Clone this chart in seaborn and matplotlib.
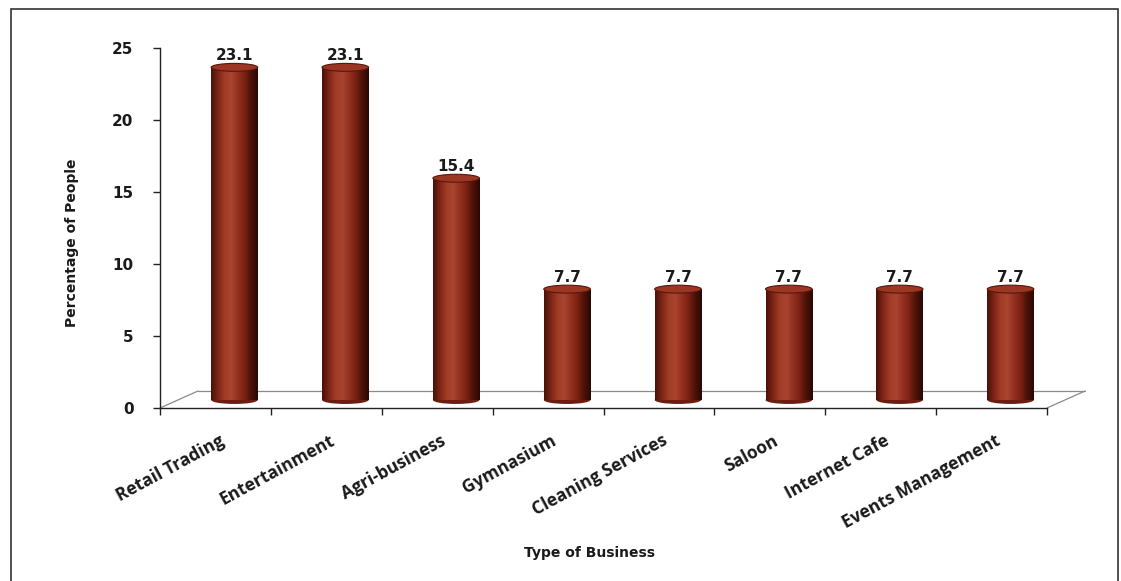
import numpy as np
import matplotlib
matplotlib.use('Agg')
import matplotlib.pyplot as plt
import matplotlib.transforms as mtransforms
from matplotlib.colors import LinearSegmentedColormap
from matplotlib.patches import Ellipse, Rectangle
from matplotlib.lines import Line2D
import seaborn as sns
import pandas as pd

categories = ["Retail Trading", "Entertainment", "Agri-business", "Gymnasium",
              "Cleaning Services", "Saloon", "Internet Cafe", "Events Management"]
percentages = [23.1, 23.1, 15.4, 7.7, 7.7, 7.7, 7.7, 7.7]
yticks = [0, 5, 10, 15, 20, 25]
x_title = "Type of Business"
y_title = "Percentage of People"

sns.set_theme(style='white')
plt.rcParams['font.family'] = ['DejaVu Sans']

W, H = 1121, 581
fig = plt.figure(figsize=(W / 100, H / 100), dpi=100)
ax = fig.add_axes([160 / W, 173 / H, (1047 - 160) / W, (408 - 48) / H])
ax.set_facecolor('white')

df = pd.DataFrame({'cat': categories, 'pct': percentages})
sns.barplot(data=df, x='cat', y='pct', color='#8e2c1b', width=0.42,
            saturation=1, errorbar=None, ax=ax, zorder=3)

ax.set_xlim(-0.5, 7.5)
ax.set_ylim(0, 25)

# 3-D depth offset
depth = mtransforms.ScaledTranslation(19 / 100, 8 / 100, fig.dpi_scale_trans)
trans = ax.transData + depth
back = mtransforms.ScaledTranslation(38 / 100, 17 / 100, fig.dpi_scale_trans)

cmap = LinearSegmentedColormap.from_list(
    'cyl', ['#4a1209', '#7e2516', '#a03b26', '#a94430', '#953120', '#7a2213', '#4d1208', '#2a0804'])
grad = np.linspace(0, 1, 64).reshape(1, -1)
ell_h = 0.55

for patch, v in zip(ax.patches, percentages):
    patch.set_transform(trans)
    patch.set_edgecolor('none')
    x0 = patch.get_x()
    w = patch.get_width()
    h = patch.get_height()
    cx = x0 + w / 2
    bot = Ellipse((cx, 0), w, ell_h, transform=trans, facecolor='#6a1d10',
                  edgecolor='none', zorder=2.9)
    ax.add_patch(bot)
    im = ax.imshow(grad, extent=[x0, x0 + w, 0, h], transform=trans, cmap=cmap,
                   aspect='auto', zorder=3.1, interpolation='bilinear')
    im.set_clip_path(patch)
    top = Ellipse((cx, h), w, ell_h, transform=trans, facecolor='#9b3623',
                  edgecolor='#5a160c', lw=0.8, zorder=3.2)
    ax.add_patch(top)
    ax.annotate(f'{v}', xy=(cx, h), xycoords=trans, xytext=(0, 3),
                textcoords='offset points', ha='center', va='bottom',
                fontsize=11, fontweight='bold', color='#1a1a1a', zorder=5)

ax.set_xlim(-0.5, 7.5)
ax.set_ylim(0, 25)

# floor outline
gl = dict(color='#8a8a8a', lw=0.9, clip_on=False, zorder=1)
ax.add_line(Line2D([-0.5, 7.5], [0, 0], transform=ax.transData + back, **gl))
for xe in (-0.5, 7.5):
    p0 = ax.transData.transform((xe, 0))
    p1 = (ax.transData + back).transform((xe, 0))
    ax.add_line(Line2D([p0[0], p1[0]], [p0[1], p1[1]], transform=None, **gl))

for s in ['top', 'right']:
    ax.spines[s].set_visible(False)
for s in ['left', 'bottom']:
    ax.spines[s].set_color('#222222')
    ax.spines[s].set_linewidth(1.0)

ax.set_yticks(yticks)
ax.set_yticklabels([str(t) for t in yticks], fontsize=11, fontweight='bold', color='#1a1a1a')
ax.tick_params(axis='y', which='major', direction='out', length=5, width=1,
               color='#222222', left=True, pad=14)

ax.set_xticks(range(len(categories)))
ax.set_xticklabels(categories, rotation=28.5, ha='right', rotation_mode='anchor',
                   fontsize=12.5, fontweight='bold', color='#1a1a1a',
                   family=['Open Sans', 'DejaVu Sans'])
ax.tick_params(axis='x', which='major', length=0, pad=17)
ax.set_xticks(np.arange(-0.5, len(categories) + 0.5, 1), minor=True)
ax.tick_params(axis='x', which='minor', direction='out', length=5, width=1,
               color='#222222', bottom=True)
lbl_shift = mtransforms.ScaledTranslation(3 / 100, 0, fig.dpi_scale_trans)
for lbl in ax.get_xticklabels():
    lbl.set_transform(lbl.get_transform() + lbl_shift)

ax.set_xlabel('')
ax.set_ylabel('')
ax.grid(False)

fig.text(72 / W, 1 - 243 / H, y_title, rotation=90, ha='center', va='center',
         fontsize=10, fontweight='bold', color='#1a1a1a',
         family=['Liberation Sans Narrow', 'DejaVu Sans'])
fig.text(590 / W, 1 - 553 / H, x_title, ha='center', va='center',
         fontsize=10, fontweight='bold', color='#1a1a1a')

fig.patches.append(Rectangle((11 / W, -0.01), (1118 - 11) / W, 1 - 9 / H + 0.01,
                             transform=fig.transFigure, fill=False,
                             edgecolor='#333333', lw=1.2))

fig.savefig('out.png', dpi=100)
